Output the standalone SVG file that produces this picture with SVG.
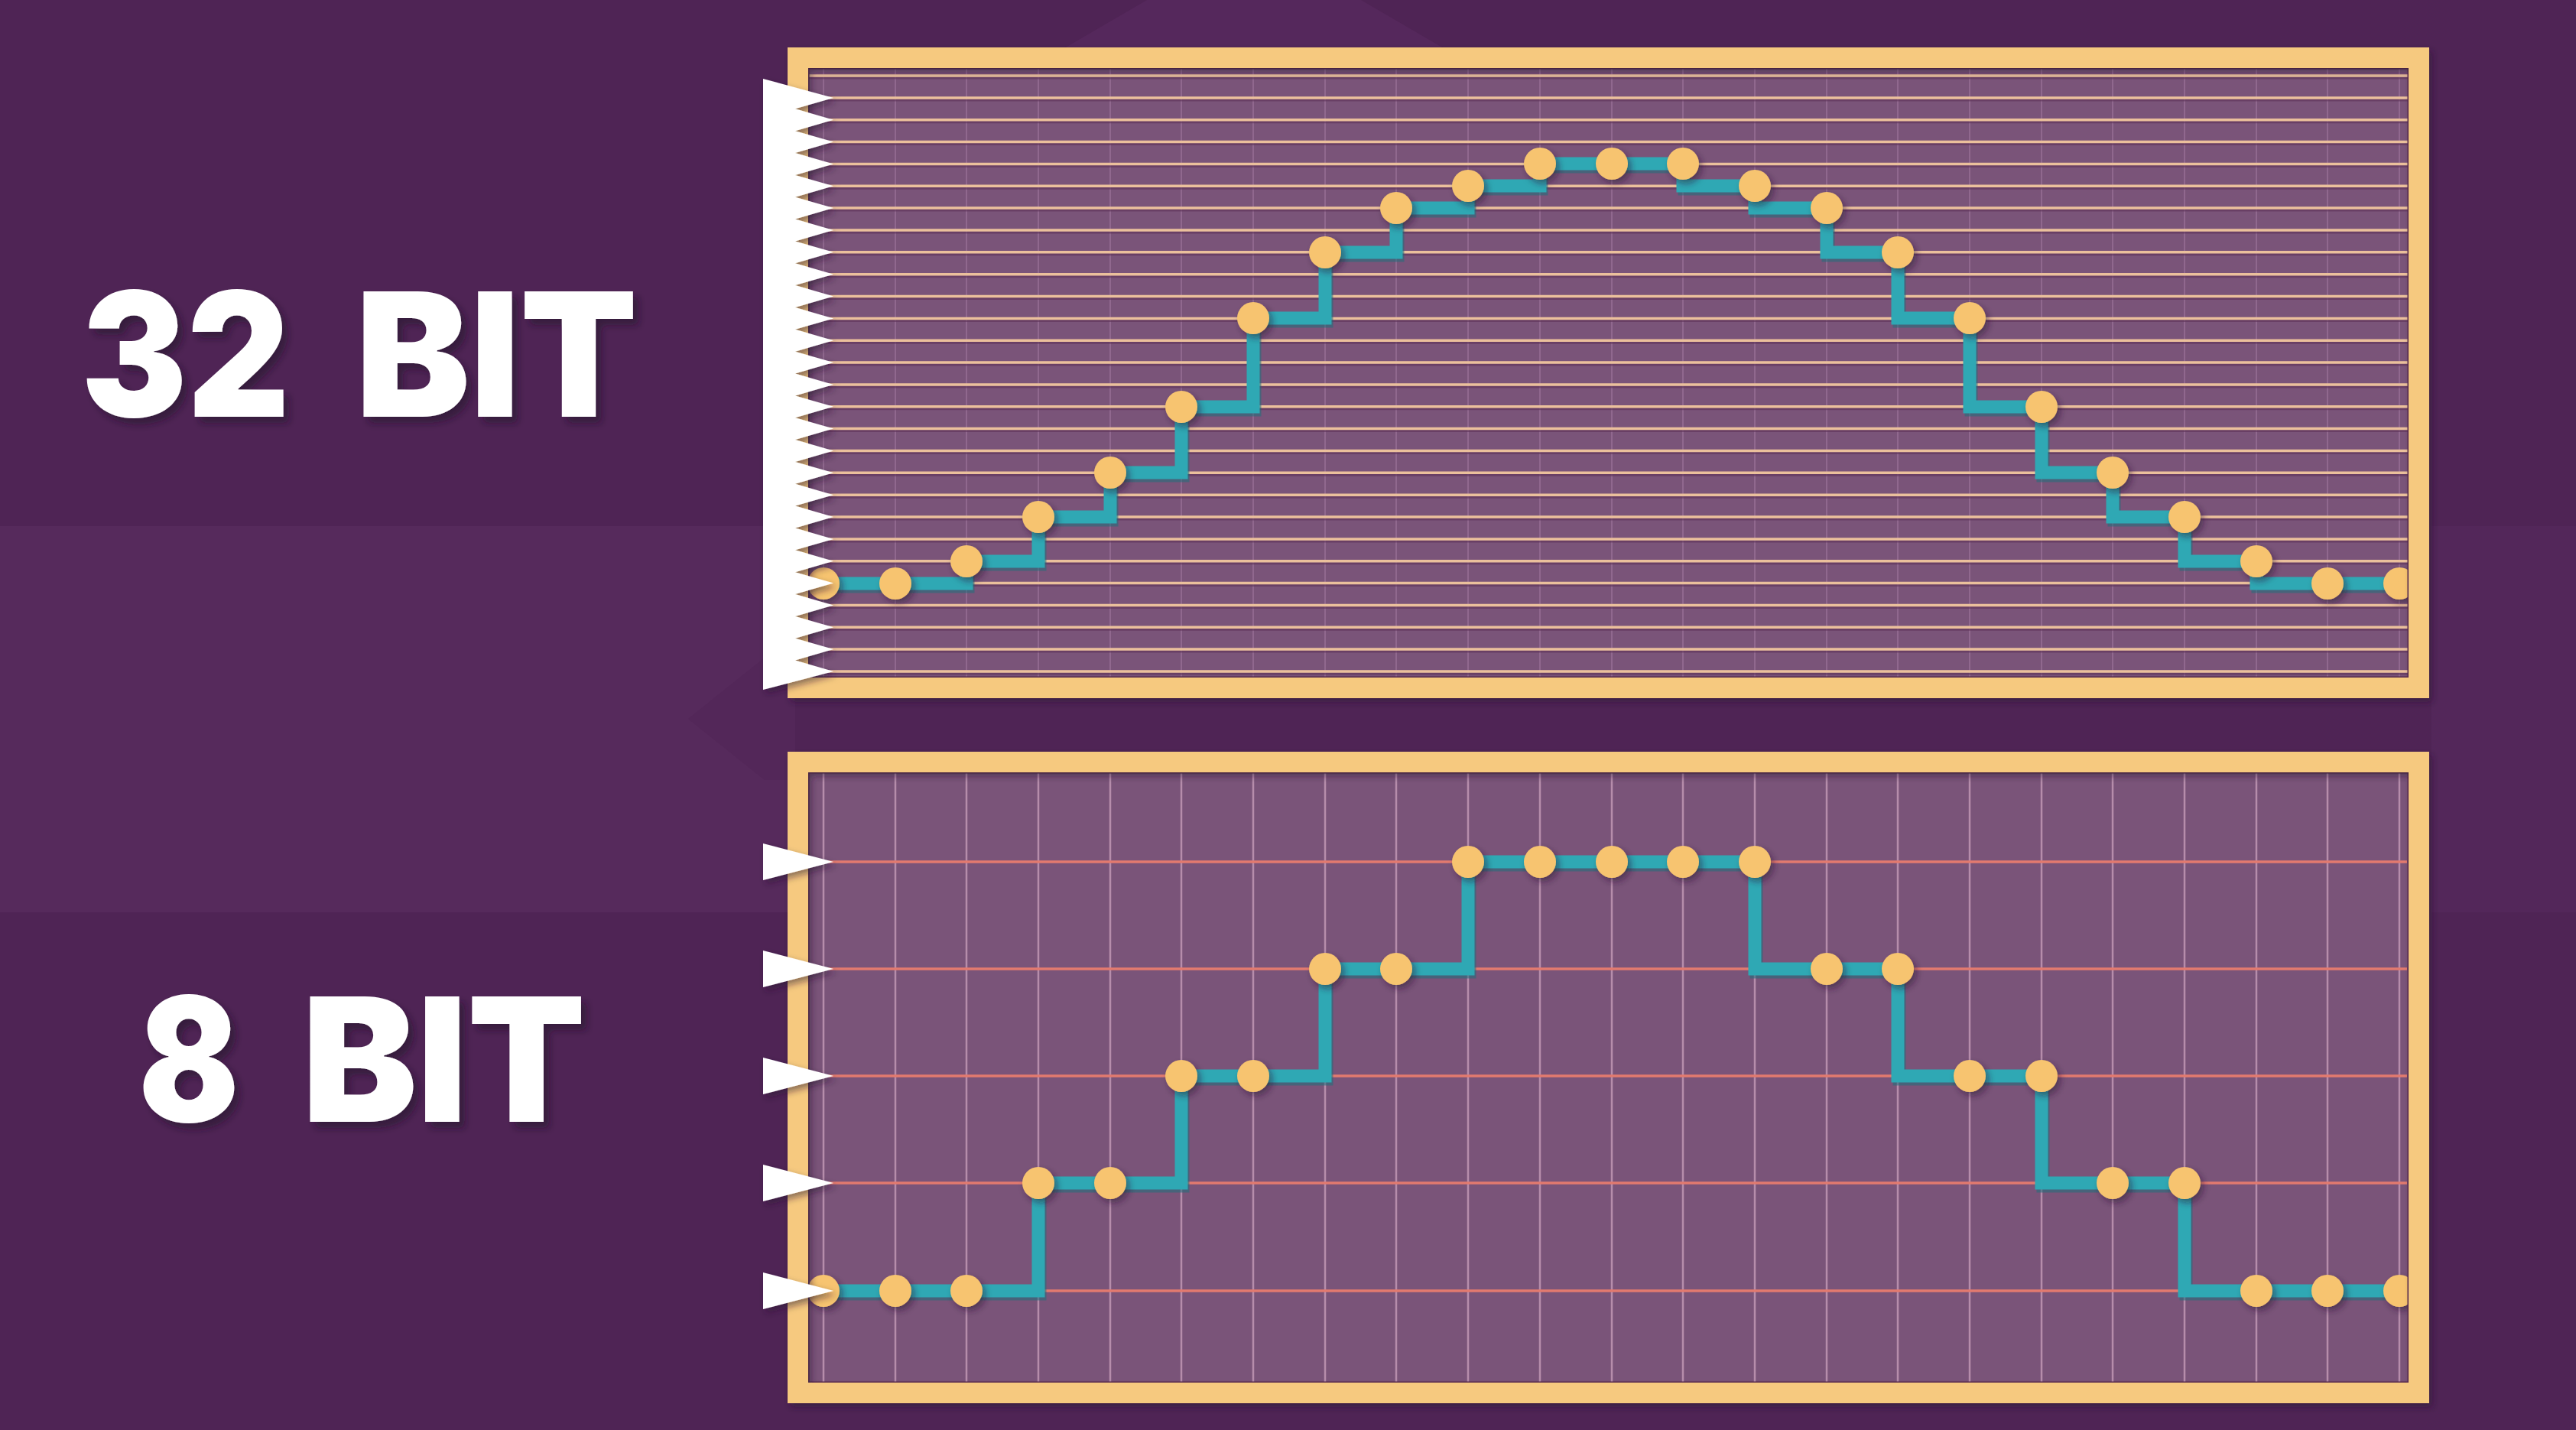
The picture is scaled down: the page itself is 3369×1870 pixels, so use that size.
<svg xmlns="http://www.w3.org/2000/svg" width="3369" height="1870" viewBox="0 0 3369 1870">
<style>
.bg{fill:#4f2455}
.band{fill:#562a5c}
.label{font-family:Inter,"Open Sans","DejaVu Sans",sans-serif;font-weight:900;fill:#ffffff}
.inner{fill:#7a5479}
.frame{fill:none;stroke:#f6c97f;stroke-width:27}
.edge{fill:none;stroke:#5a2b50;stroke-width:3}
.vgrid32{stroke:#9a7197;stroke-width:2;opacity:0.7}
.vgrid8{stroke:#c59cb8;stroke-width:2.5;opacity:0.8}
.hline32{stroke:#ebc09c;stroke-width:3.5}
.hshadow{stroke:#5e3258;stroke-width:3;opacity:0.6}
.hline8{stroke:#e27a6f;stroke-width:3.5}
.wave{fill:none;stroke:#2fa8b4;stroke-width:17;stroke-linejoin:miter;stroke-linecap:square}
.waveshadow{fill:none;stroke:#1d6f7c;stroke-width:17;stroke-linejoin:miter;stroke-linecap:square;opacity:0.55}
.dot{fill:#f7c46f}
.teeth{fill:#ffffff}
</style>
<defs>
<filter id="tshadow" x="-10%" y="-10%" width="130%" height="140%">
<feDropShadow dx="7" dy="8" stdDeviation="5" flood-color="#22082a" flood-opacity="0.55"/>
</filter>
<filter id="soft" x="-5%" y="-5%" width="115%" height="115%">
<feDropShadow dx="4" dy="5" stdDeviation="4" flood-color="#2a0c2e" flood-opacity="0.5"/>
</filter>
</defs>

<rect class="bg" x="0" y="0" width="3369" height="1870"/>
<g id="background">
<polygon class="band" points="0,688 1040,688 1040,1193 0,1193"/>
<polygon points="900,940 1000,860 1040,860 1040,1020 1000,1020" fill="#4f2455" opacity="0.5"/>
<polygon points="1500,0 1780,0 1900,70 1380,70" fill="#5a2c60" opacity="0.6"/>
<polygon points="3180,688 3369,688 3369,1193 3180,1193" fill="#53275a"/>
</g>

<g id="label-32bit">
<text class="label" y="545" font-size="226" filter="url(#tshadow)"><tspan x="106" textLength="273" lengthAdjust="spacingAndGlyphs">32</tspan><tspan x="465" textLength="369" lengthAdjust="spacingAndGlyphs">BIT</tspan></text>
</g>
<g id="label-8bit">
<text class="label" y="1467" font-size="226" filter="url(#tshadow)"><tspan x="181" textLength="132" lengthAdjust="spacingAndGlyphs">8</tspan><tspan x="395" textLength="371" lengthAdjust="spacingAndGlyphs">BIT</tspan></text>
</g>

<g id="panel-32bit">
<rect class="inner" x="1057" y="89" width="2093" height="797"/>
<g id="vgrid-32">
<line class="vgrid32" x1="1077" y1="89" x2="1077" y2="886"/><line class="vgrid32" x1="1171" y1="89" x2="1171" y2="886"/><line class="vgrid32" x1="1264" y1="89" x2="1264" y2="886"/><line class="vgrid32" x1="1358" y1="89" x2="1358" y2="886"/><line class="vgrid32" x1="1452" y1="89" x2="1452" y2="886"/><line class="vgrid32" x1="1545" y1="89" x2="1545" y2="886"/><line class="vgrid32" x1="1639" y1="89" x2="1639" y2="886"/><line class="vgrid32" x1="1733" y1="89" x2="1733" y2="886"/><line class="vgrid32" x1="1826" y1="89" x2="1826" y2="886"/><line class="vgrid32" x1="1920" y1="89" x2="1920" y2="886"/><line class="vgrid32" x1="2014" y1="89" x2="2014" y2="886"/><line class="vgrid32" x1="2108" y1="89" x2="2108" y2="886"/><line class="vgrid32" x1="2201" y1="89" x2="2201" y2="886"/><line class="vgrid32" x1="2295" y1="89" x2="2295" y2="886"/><line class="vgrid32" x1="2389" y1="89" x2="2389" y2="886"/><line class="vgrid32" x1="2482" y1="89" x2="2482" y2="886"/><line class="vgrid32" x1="2576" y1="89" x2="2576" y2="886"/><line class="vgrid32" x1="2670" y1="89" x2="2670" y2="886"/><line class="vgrid32" x1="2763" y1="89" x2="2763" y2="886"/><line class="vgrid32" x1="2857" y1="89" x2="2857" y2="886"/><line class="vgrid32" x1="2951" y1="89" x2="2951" y2="886"/><line class="vgrid32" x1="3044" y1="89" x2="3044" y2="886"/><line class="vgrid32" x1="3138" y1="89" x2="3138" y2="886"/>
</g>
<g id="hlines-32" transform="translate(0,3)">
<line class="hshadow" x1="1057" y1="99" x2="3150" y2="99"/><line class="hshadow" x1="1057" y1="127.9" x2="3150" y2="127.9"/><line class="hshadow" x1="1057" y1="156.7" x2="3150" y2="156.7"/><line class="hshadow" x1="1057" y1="185.6" x2="3150" y2="185.6"/><line class="hshadow" x1="1057" y1="214.4" x2="3150" y2="214.4"/><line class="hshadow" x1="1057" y1="243.3" x2="3150" y2="243.3"/><line class="hshadow" x1="1057" y1="272.1" x2="3150" y2="272.1"/><line class="hshadow" x1="1057" y1="301" x2="3150" y2="301"/><line class="hshadow" x1="1057" y1="329.8" x2="3150" y2="329.8"/><line class="hshadow" x1="1057" y1="358.7" x2="3150" y2="358.7"/><line class="hshadow" x1="1057" y1="387.5" x2="3150" y2="387.5"/><line class="hshadow" x1="1057" y1="416.4" x2="3150" y2="416.4"/><line class="hshadow" x1="1057" y1="445.2" x2="3150" y2="445.2"/><line class="hshadow" x1="1057" y1="474.1" x2="3150" y2="474.1"/><line class="hshadow" x1="1057" y1="502.9" x2="3150" y2="502.9"/><line class="hshadow" x1="1057" y1="531.8" x2="3150" y2="531.8"/><line class="hshadow" x1="1057" y1="560.6" x2="3150" y2="560.6"/><line class="hshadow" x1="1057" y1="589.5" x2="3150" y2="589.5"/><line class="hshadow" x1="1057" y1="618.3" x2="3150" y2="618.3"/><line class="hshadow" x1="1057" y1="647.2" x2="3150" y2="647.2"/><line class="hshadow" x1="1057" y1="676" x2="3150" y2="676"/><line class="hshadow" x1="1057" y1="704.9" x2="3150" y2="704.9"/><line class="hshadow" x1="1057" y1="733.7" x2="3150" y2="733.7"/><line class="hshadow" x1="1057" y1="762.6" x2="3150" y2="762.6"/><line class="hshadow" x1="1057" y1="791.4" x2="3150" y2="791.4"/><line class="hshadow" x1="1057" y1="820.3" x2="3150" y2="820.3"/><line class="hshadow" x1="1057" y1="849.1" x2="3150" y2="849.1"/><line class="hshadow" x1="1057" y1="878" x2="3150" y2="878"/>
</g>
<g id="hlines-32-light">
<line class="hline32" x1="1057" y1="99" x2="3150" y2="99"/><line class="hline32" x1="1057" y1="127.9" x2="3150" y2="127.9"/><line class="hline32" x1="1057" y1="156.7" x2="3150" y2="156.7"/><line class="hline32" x1="1057" y1="185.6" x2="3150" y2="185.6"/><line class="hline32" x1="1057" y1="214.4" x2="3150" y2="214.4"/><line class="hline32" x1="1057" y1="243.3" x2="3150" y2="243.3"/><line class="hline32" x1="1057" y1="272.1" x2="3150" y2="272.1"/><line class="hline32" x1="1057" y1="301" x2="3150" y2="301"/><line class="hline32" x1="1057" y1="329.8" x2="3150" y2="329.8"/><line class="hline32" x1="1057" y1="358.7" x2="3150" y2="358.7"/><line class="hline32" x1="1057" y1="387.5" x2="3150" y2="387.5"/><line class="hline32" x1="1057" y1="416.4" x2="3150" y2="416.4"/><line class="hline32" x1="1057" y1="445.2" x2="3150" y2="445.2"/><line class="hline32" x1="1057" y1="474.1" x2="3150" y2="474.1"/><line class="hline32" x1="1057" y1="502.9" x2="3150" y2="502.9"/><line class="hline32" x1="1057" y1="531.8" x2="3150" y2="531.8"/><line class="hline32" x1="1057" y1="560.6" x2="3150" y2="560.6"/><line class="hline32" x1="1057" y1="589.5" x2="3150" y2="589.5"/><line class="hline32" x1="1057" y1="618.3" x2="3150" y2="618.3"/><line class="hline32" x1="1057" y1="647.2" x2="3150" y2="647.2"/><line class="hline32" x1="1057" y1="676" x2="3150" y2="676"/><line class="hline32" x1="1057" y1="704.9" x2="3150" y2="704.9"/><line class="hline32" x1="1057" y1="733.7" x2="3150" y2="733.7"/><line class="hline32" x1="1057" y1="762.6" x2="3150" y2="762.6"/><line class="hline32" x1="1057" y1="791.4" x2="3150" y2="791.4"/><line class="hline32" x1="1057" y1="820.3" x2="3150" y2="820.3"/><line class="hline32" x1="1057" y1="849.1" x2="3150" y2="849.1"/><line class="hline32" x1="1057" y1="878" x2="3150" y2="878"/>
</g>
<g id="wave-32">
<path class="waveshadow" transform="translate(2,4)" d="M1077,763 H1264 V734 H1358 V676 H1452 V618 H1545 V532 H1639 V416 H1733 V330 H1826 V272 H1920 V243 H2014 V214 H2201 V243 H2295 V272 H2389 V330 H2482 V416 H2576 V532 H2670 V618 H2763 V676 H2857 V734 H2951 V763 H3138"/>
<path class="wave" d="M1077,763 H1264 V734 H1358 V676 H1452 V618 H1545 V532 H1639 V416 H1733 V330 H1826 V272 H1920 V243 H2014 V214 H2201 V243 H2295 V272 H2389 V330 H2482 V416 H2576 V532 H2670 V618 H2763 V676 H2857 V734 H2951 V763 H3138"/>
</g>
<g id="dots-32" filter="url(#soft)">
<circle class="dot" cx="1077" cy="763" r="21"/><circle class="dot" cx="1171" cy="763" r="21"/><circle class="dot" cx="1264" cy="734" r="21"/><circle class="dot" cx="1358" cy="676" r="21"/><circle class="dot" cx="1452" cy="618" r="21"/><circle class="dot" cx="1545" cy="532" r="21"/><circle class="dot" cx="1639" cy="416" r="21"/><circle class="dot" cx="1733" cy="330" r="21"/><circle class="dot" cx="1826" cy="272" r="21"/><circle class="dot" cx="1920" cy="243" r="21"/><circle class="dot" cx="2014" cy="214" r="21"/><circle class="dot" cx="2108" cy="214" r="21"/><circle class="dot" cx="2201" cy="214" r="21"/><circle class="dot" cx="2295" cy="243" r="21"/><circle class="dot" cx="2389" cy="272" r="21"/><circle class="dot" cx="2482" cy="330" r="21"/><circle class="dot" cx="2576" cy="416" r="21"/><circle class="dot" cx="2670" cy="532" r="21"/><circle class="dot" cx="2763" cy="618" r="21"/><circle class="dot" cx="2857" cy="676" r="21"/><circle class="dot" cx="2951" cy="734" r="21"/><circle class="dot" cx="3044" cy="763" r="21"/><circle class="dot" cx="3138" cy="763" r="21"/>
</g>
<rect class="edge" x="1057" y="89" width="2093" height="797"/>
<rect class="frame" x="1043.5" y="75.5" width="2120" height="824" filter="url(#soft)"/>
<polygon class="teeth" filter="url(#soft)" points="998,103 1090,127.9 1040,142.3 1090,156.7 1040,171.2 1090,185.6 1040,200 1090,214.4 1040,228.9 1090,243.3 1040,257.7 1090,272.1 1040,286.6 1090,301 1040,315.4 1090,329.8 1040,344.3 1090,358.7 1040,373.1 1090,387.5 1040,402 1090,416.4 1040,430.8 1090,445.2 1040,459.7 1090,474.1 1040,488.5 1090,502.9 1040,517.4 1090,531.8 1040,546.2 1090,560.6 1040,575.1 1090,589.5 1040,603.9 1090,618.3 1040,632.8 1090,647.2 1040,661.6 1090,676 1040,690.5 1090,704.9 1040,719.3 1090,733.7 1040,748.2 1090,762.6 1040,777 1090,791.4 1040,805.9 1090,820.3 1040,834.7 1090,849.1 1040,863.6 1090,878 998,902"/>
</g>

<g id="panel-8bit">
<rect class="inner" x="1057" y="1010" width="2093" height="798"/>
<g id="vgrid-8">
<line class="vgrid8" x1="1077" y1="1010" x2="1077" y2="1808"/><line class="vgrid8" x1="1171" y1="1010" x2="1171" y2="1808"/><line class="vgrid8" x1="1264" y1="1010" x2="1264" y2="1808"/><line class="vgrid8" x1="1358" y1="1010" x2="1358" y2="1808"/><line class="vgrid8" x1="1452" y1="1010" x2="1452" y2="1808"/><line class="vgrid8" x1="1545" y1="1010" x2="1545" y2="1808"/><line class="vgrid8" x1="1639" y1="1010" x2="1639" y2="1808"/><line class="vgrid8" x1="1733" y1="1010" x2="1733" y2="1808"/><line class="vgrid8" x1="1826" y1="1010" x2="1826" y2="1808"/><line class="vgrid8" x1="1920" y1="1010" x2="1920" y2="1808"/><line class="vgrid8" x1="2014" y1="1010" x2="2014" y2="1808"/><line class="vgrid8" x1="2108" y1="1010" x2="2108" y2="1808"/><line class="vgrid8" x1="2201" y1="1010" x2="2201" y2="1808"/><line class="vgrid8" x1="2295" y1="1010" x2="2295" y2="1808"/><line class="vgrid8" x1="2389" y1="1010" x2="2389" y2="1808"/><line class="vgrid8" x1="2482" y1="1010" x2="2482" y2="1808"/><line class="vgrid8" x1="2576" y1="1010" x2="2576" y2="1808"/><line class="vgrid8" x1="2670" y1="1010" x2="2670" y2="1808"/><line class="vgrid8" x1="2763" y1="1010" x2="2763" y2="1808"/><line class="vgrid8" x1="2857" y1="1010" x2="2857" y2="1808"/><line class="vgrid8" x1="2951" y1="1010" x2="2951" y2="1808"/><line class="vgrid8" x1="3044" y1="1010" x2="3044" y2="1808"/><line class="vgrid8" x1="3138" y1="1010" x2="3138" y2="1808"/>
</g>
<g id="hlines-8">
<line class="hline8" x1="1057" y1="1127" x2="3148" y2="1127"/><line class="hline8" x1="1057" y1="1267" x2="3148" y2="1267"/><line class="hline8" x1="1057" y1="1407" x2="3148" y2="1407"/><line class="hline8" x1="1057" y1="1547" x2="3148" y2="1547"/><line class="hline8" x1="1057" y1="1688" x2="3148" y2="1688"/>
</g>
<g id="wave-8">
<path class="waveshadow" transform="translate(2,4)" d="M1077,1688 H1358 V1547 H1545 V1407 H1733 V1267 H1920 V1127 H2295 V1267 H2482 V1407 H2670 V1547 H2857 V1688 H3138"/>
<path class="wave" d="M1077,1688 H1358 V1547 H1545 V1407 H1733 V1267 H1920 V1127 H2295 V1267 H2482 V1407 H2670 V1547 H2857 V1688 H3138"/>
</g>
<g id="dots-8" filter="url(#soft)">
<circle class="dot" cx="1077" cy="1688" r="21"/><circle class="dot" cx="1171" cy="1688" r="21"/><circle class="dot" cx="1264" cy="1688" r="21"/><circle class="dot" cx="1358" cy="1547" r="21"/><circle class="dot" cx="1452" cy="1547" r="21"/><circle class="dot" cx="1545" cy="1407" r="21"/><circle class="dot" cx="1639" cy="1407" r="21"/><circle class="dot" cx="1733" cy="1267" r="21"/><circle class="dot" cx="1826" cy="1267" r="21"/><circle class="dot" cx="1920" cy="1127" r="21"/><circle class="dot" cx="2014" cy="1127" r="21"/><circle class="dot" cx="2108" cy="1127" r="21"/><circle class="dot" cx="2201" cy="1127" r="21"/><circle class="dot" cx="2295" cy="1127" r="21"/><circle class="dot" cx="2389" cy="1267" r="21"/><circle class="dot" cx="2482" cy="1267" r="21"/><circle class="dot" cx="2576" cy="1407" r="21"/><circle class="dot" cx="2670" cy="1407" r="21"/><circle class="dot" cx="2763" cy="1547" r="21"/><circle class="dot" cx="2857" cy="1547" r="21"/><circle class="dot" cx="2951" cy="1688" r="21"/><circle class="dot" cx="3044" cy="1688" r="21"/><circle class="dot" cx="3138" cy="1688" r="21"/>
</g>
<rect class="edge" x="1057" y="1010" width="2093" height="798"/>
<rect class="frame" x="1043.5" y="996.5" width="2120" height="825" filter="url(#soft)"/>
<g id="markers-8" filter="url(#soft)">
<polygon class="teeth" points="998,1103 1090,1127 998,1151"/>
<polygon class="teeth" points="998,1243 1090,1267 998,1291"/>
<polygon class="teeth" points="998,1383 1090,1407 998,1431"/>
<polygon class="teeth" points="998,1523 1090,1547 998,1571"/>
<polygon class="teeth" points="998,1664 1090,1688 998,1712"/>
</g>
</g>
</svg>
